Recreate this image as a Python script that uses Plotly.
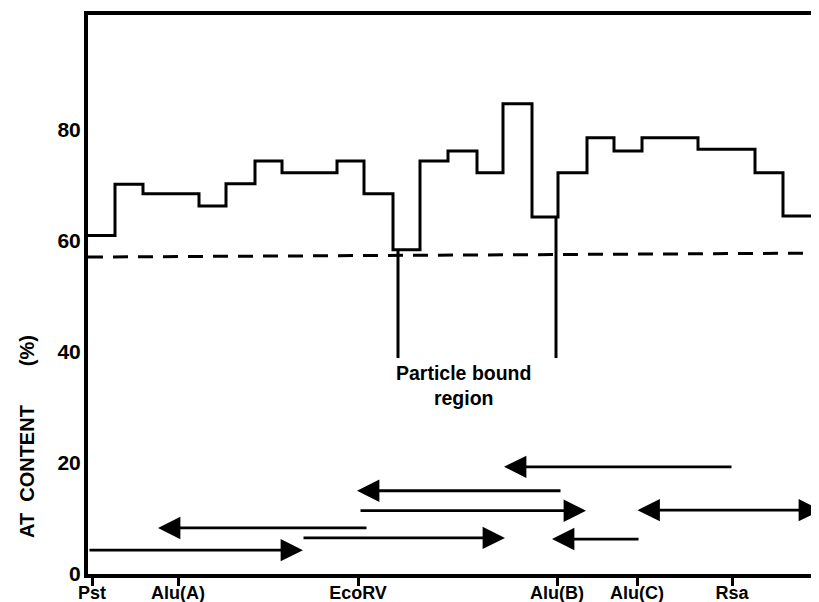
import plotly.graph_objects as go

# ---- data ----
step_edges = [0, 2.7, 5.5, 11.1, 13.8, 16.7, 19.4, 24.9, 27.6, 30.5, 33.2, 36.0,
              38.9, 41.5, 44.4, 47.0, 49.9, 52.6, 55.4, 61.0, 66.7, 69.5, 72.4]
at_content = [61.0, 70.2, 68.5, 66.3, 70.3, 74.4, 72.3, 74.4, 68.5, 58.4, 74.4,
              76.2, 72.3, 84.7, 64.3, 72.3, 78.6, 76.2, 78.6, 76.5, 72.3, 64.5]

mean_x = [0, 73.1]
mean_y = [57.1, 57.8]

site_pos = [0.4, 9.0, 27.0, 46.9, 54.9, 64.4]
site_labels = ["Pst", "Alu(A)", "EcoRV", "Alu(B)", "Alu(C)", "Rsa"]

bound_x = [31.0, 46.8]
bound_top = [58.4, 64.3]
bound_bottom = 38.9

# arrows: tail x, tip x, y, double-headed
arrow_tail = [0.0, 28.0, 21.4, 47.4, 27.1, 64.5, 55.2, 54.8]
arrow_tip = [21.5, 7.0, 41.7, 26.9, 49.8, 41.6, 46.4, 73.3]
arrow_y = [4.3, 8.3, 6.5, 15.0, 11.4, 19.3, 6.3, 11.5]
arrow_double = [False, False, False, False, False, False, False, True]

y_ticks = [0, 20, 40, 60, 80]

FONT = "Liberation Sans, Arial, sans-serif"

fig = go.Figure()

fig.add_trace(go.Scatter(
    x=step_edges, y=at_content + [at_content[-1]],
    mode="lines", line=dict(shape="hv", color="black", width=3),
    showlegend=False, hoverinfo="skip"))

fig.add_trace(go.Scatter(
    x=mean_x, y=mean_y, mode="lines",
    line=dict(color="black", width=3, dash="15px,10px"),
    showlegend=False, hoverinfo="skip"))

for bx, bt in zip(bound_x, bound_top):
    fig.add_trace(go.Scatter(
        x=[bx, bx], y=[bt, bound_bottom], mode="lines",
        line=dict(color="black", width=3),
        showlegend=False, hoverinfo="skip"))

annotations = []
for tx, hx, yy, dbl in zip(arrow_tail, arrow_tip, arrow_y, arrow_double):
    annotations.append(dict(
        x=hx, y=yy, ax=tx, ay=yy, xref="x", yref="y", axref="x", ayref="y",
        text="", showarrow=True, arrowhead=2, arrowsize=1.6, arrowwidth=2.8,
        arrowcolor="black", arrowside="end+start" if dbl else "end",
        startarrowhead=2, startarrowsize=1.6))

annotations.append(dict(
    x=37.5, y=33.9, xref="x", yref="y", text="Particle bound<br>region",
    showarrow=False, font=dict(family=FONT, size=19.5, color="black", weight="bold"),
    xanchor="center", yanchor="middle"))

annotations.append(dict(
    x=-0.0834, y=0.245, xref="paper", yref="paper",
    text="AT\u00a0\u00a0CONTENT\u00a0\u00a0\u00a0\u00a0\u00a0\u00a0\u00a0(%)",
    textangle=-90, showarrow=False,
    font=dict(family=FONT, size=20, color="black", weight="bold"),
    xanchor="center", yanchor="middle"))

# page has an 8px body margin: figure is 811x594 so it ends at 819x602
fig.update_layout(
    width=811, height=594,
    margin=dict(l=80, r=0, t=7, b=28),
    paper_bgcolor="white", plot_bgcolor="white",
    annotations=annotations,
    font=dict(family=FONT, color="black"),
    xaxis=dict(range=[0, 73.1], showgrid=False, zeroline=False,
               showline=True, linewidth=4, linecolor="black", mirror=True,
               tickmode="array", tickvals=site_pos, ticktext=site_labels,
               ticks="outside", ticklen=8, tickwidth=3, tickcolor="black",
               ticklabelstandoff=-9,
               tickfont=dict(family=FONT, size=18, color="black", weight="bold"),
               automargin=False),
    yaxis=dict(range=[0, 100.7], showgrid=False, zeroline=False,
               showline=True, linewidth=4, linecolor="black", mirror=False,
               tickmode="array", tickvals=y_ticks, ticks="",
               ticklabelstandoff=-1,
               tickfont=dict(family=FONT, size=21, color="black", weight="bold"),
               automargin=False),
)

fig.write_html("out.html")
